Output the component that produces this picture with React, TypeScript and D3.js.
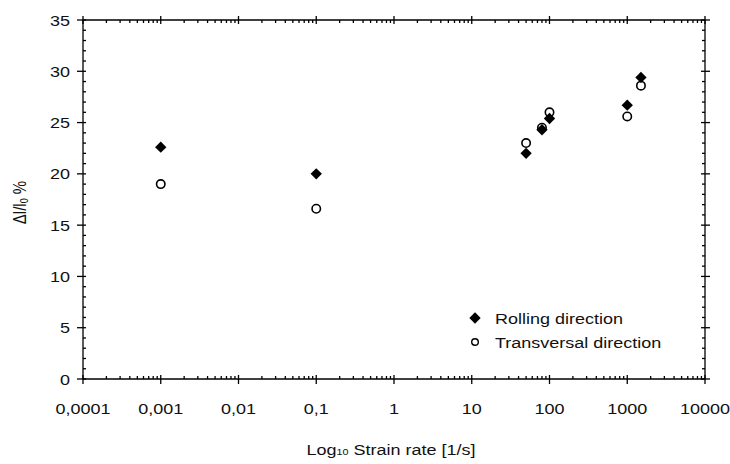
import React, { useRef, useEffect } from 'react';
import * as d3 from 'd3';

// strain rate [1/s] for each test
const strainRates = [0.001, 0.1, 50, 80, 100, 1000, 1500];
const rollingValues = [22.6, 20.0, 22.0, 24.3, 25.4, 26.7, 29.4];
const transversalValues = [19.0, 16.6, 23.0, 24.5, 26.0, 25.6, 28.6];

const xTickValues = [0.0001, 0.001, 0.01, 0.1, 1, 10, 100, 1000, 10000];
const xTickLabels = ['0,0001', '0,001', '0,01', '0,1', '1', '10', '100', '1000', '10000'];
const yTickValues = [0, 5, 10, 15, 20, 25, 30, 35];

const seriesNames = ['Rolling direction', 'Transversal direction'];

const FONT = "'Liberation Sans', Arial, sans-serif";
const SX = 1.2; // the original text is a bit stretched horizontally

const StrainChart = ({ width = 730, height = 464 }) => {
  const svgRef = useRef(null);
  useEffect(() => {
    d3.select(svgRef.current).selectAll('*').remove();
    const svg = d3.select(svgRef.current);
    const margin = { top: 20, right: 25, bottom: 85, left: 83 };
    const x0 = margin.left;
    const x1 = width - margin.right;
    const y0 = height - margin.bottom;
    const y1 = margin.top;

    const x = d3.scaleLog().domain([0.0001, 10000]).range([x0, x1]);
    const y = d3.scaleLinear().domain([0, 35]).range([y0, y1]);

    const g = svg.append('g').attr('stroke', '#000').attr('stroke-width', 1.3);

    // frame
    g.append('line').attr('x1', x0).attr('x2', x1).attr('y1', y0).attr('y2', y0);
    g.append('line').attr('x1', x0).attr('x2', x1).attr('y1', y1).attr('y2', y1);
    g.append('line').attr('x1', x0).attr('x2', x0).attr('y1', y0).attr('y2', y1);
    g.append('line').attr('x1', x1).attr('x2', x1).attr('y1', y0).attr('y2', y1);

    // minor x ticks (2..9 in each decade)
    const xMinor = [];
    xTickValues.slice(0, -1).forEach((d) => {
      for (let k = 2; k <= 9; k++) xMinor.push(d * k);
    });
    xMinor.forEach((v) => {
      g.append('line').attr('x1', x(v)).attr('x2', x(v)).attr('y1', y0).attr('y2', y0 - 3);
      g.append('line').attr('x1', x(v)).attr('x2', x(v)).attr('y1', y1).attr('y2', y1 + 3);
    });
    xTickValues.forEach((v) => {
      g.append('line').attr('x1', x(v)).attr('x2', x(v)).attr('y1', y0 - 4).attr('y2', y0 + 5);
      g.append('line').attr('x1', x(v)).attr('x2', x(v)).attr('y1', y1 - 4).attr('y2', y1 + 4);
    });

    // y ticks
    d3.range(0, 36, 1).forEach((v) => {
      if (v % 5 === 0) return;
      g.append('line').attr('x1', x0).attr('x2', x0 + 3).attr('y1', y(v)).attr('y2', y(v));
      g.append('line').attr('x1', x1).attr('x2', x1 - 3).attr('y1', y(v)).attr('y2', y(v));
    });
    yTickValues.forEach((v) => {
      g.append('line').attr('x1', x0 - 6).attr('x2', x0 + 3).attr('y1', y(v)).attr('y2', y(v));
      g.append('line').attr('x1', x1 - 4).attr('x2', x1 + 5).attr('y1', y(v)).attr('y2', y(v));
    });

    // tick labels
    const labels = svg.append('g').attr('font-family', FONT).attr('font-size', 15)
      .attr('fill', '#111');
    xTickValues.forEach((v, i) => {
      labels.append('text').attr('transform', `translate(${x(v)},${y0 + 35}) scale(${SX},1)`)
        .attr('text-anchor', 'middle').text(xTickLabels[i]);
    });
    yTickValues.forEach((v) => {
      labels.append('text').attr('transform', `translate(${x0 - 13},${y(v) + 5.5}) scale(${SX},1)`)
        .attr('text-anchor', 'end').text(v);
    });

    // axis titles
    const xt = labels.append('text')
      .attr('transform', `translate(${(x0 + x1) / 2 - 3},${height - 9}) scale(${SX},1)`)
      .attr('text-anchor', 'middle');
    xt.append('tspan').text('Log');
    xt.append('tspan').attr('font-size', 9).text('10');
    xt.append('tspan').text(' Strain rate [1/s]');

    const yt = labels.append('text')
      .attr('transform', `translate(26,${(y0 + y1) / 2 + 3}) rotate(-90) scale(1,${SX})`)
      .attr('text-anchor', 'middle');
    yt.append('tspan').text('\u0394l/l');
    yt.append('tspan').attr('font-size', 9).attr('dy', 2).text('0');
    yt.append('tspan').attr('dy', -2).text(' %');

    // markers
    const diamond = d3.symbol().type(d3.symbolSquare).size(64);
    const pts = svg.append('g');
    strainRates.forEach((s, i) => {
      pts.append('circle').attr('cx', x(s)).attr('cy', y(transversalValues[i])).attr('r', 4.2)
        .attr('fill', '#fff').attr('stroke', '#000').attr('stroke-width', 1.6);
    });
    strainRates.forEach((s, i) => {
      pts.append('path').attr('d', diamond)
        .attr('transform', `translate(${x(s)},${y(rollingValues[i])}) rotate(45)`)
        .attr('fill', '#000');
    });

    // legend
    const lg = svg.append('g').attr('transform', 'translate(475,318)');
    lg.append('path').attr('d', diamond).attr('transform', 'rotate(45)').attr('fill', '#000');
    lg.append('circle').attr('cx', 0).attr('cy', 24).attr('r', 3.3)
      .attr('fill', '#fff').attr('stroke', '#000').attr('stroke-width', 1.4);
    seriesNames.forEach((name, i) => {
      lg.append('text').attr('transform', `translate(20,${i * 24 + 5.5}) scale(${SX},1)`)
        .attr('font-family', FONT).attr('font-size', 15)
        .attr('fill', '#111').text(name);
    });
  }, [width, height]);

  return (
    <svg ref={svgRef} width={width} height={height}
      style={{ position: 'absolute', left: 0, top: 0, background: '#fff' }}></svg>
  );
};

export default function App() {
  return <StrainChart />;
}
